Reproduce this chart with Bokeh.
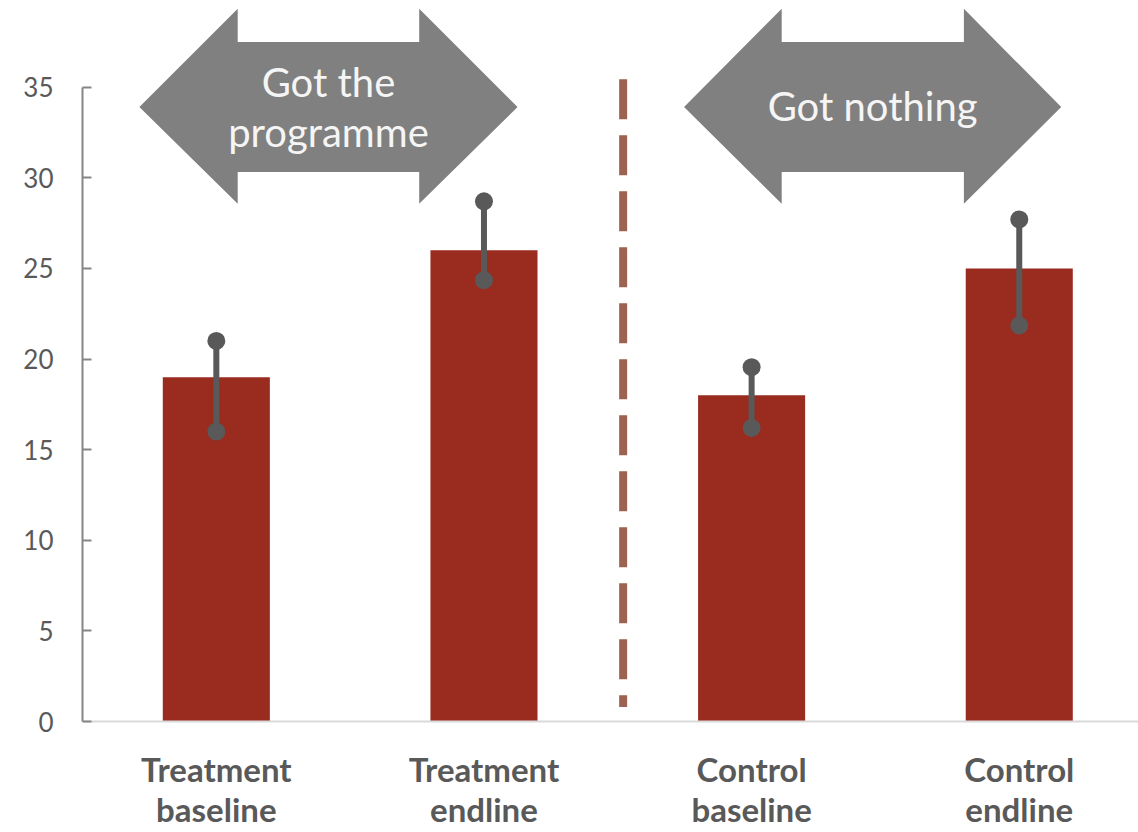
from bokeh.plotting import figure
from bokeh.models import FixedTicker, ColumnDataSource, Range1d
from bokeh.core.properties import value
from bokeh.embed import file_html
from bokeh.resources import INLINE

# ---- data ----
categories = ["Treatment\nbaseline", "Treatment\nendline", "Control\nbaseline", "Control\nendline"]
means = [19.0, 26.0, 18.0, 25.0]
upper = [21.0, 28.7, 19.55, 27.7]
lower = [16.0, 24.35, 16.2, 21.85]
y_ticks = [0, 5, 10, 15, 20, 25, 30, 35]
arrow_labels_left = ["Got the", "programme"]
arrow_label_right = ["Got nothing"]

# ---- style ----
BAR = "#992B1F"
ERR = "#595959"
ARROW = "#808080"
DASH = "#9C6352"
TXT = "#595959"
FONT = "Lato"

xs = list(range(len(categories)))

p = figure(width=1138, height=832, output_backend="svg", toolbar_location=None,
           x_range=Range1d(-0.5, 3.4455), y_range=Range1d(0, 39.34),
           min_border_left=82, min_border_right=0, min_border_top=8, min_border_bottom=111)
p.outline_line_color = None
p.xgrid.grid_line_color = None
p.ygrid.grid_line_color = None
p.background_fill_color = "white"
p.border_fill_color = "white"

# arrows (shape geometry)
def double_arrow(x_tip_l, x_shaft_l, x_shaft_r, x_tip_r, y_head_top, y_shaft_top, y_mid, y_shaft_bot, y_head_bot):
    xs_ = [x_tip_l, x_shaft_l, x_shaft_l, x_shaft_r, x_shaft_r, x_tip_r, x_shaft_r, x_shaft_r, x_shaft_l, x_shaft_l]
    ys_ = [y_mid, y_head_top, y_shaft_top, y_shaft_top, y_head_top, y_mid, y_head_bot, y_shaft_bot, y_shaft_bot, y_head_bot]
    return xs_, ys_

ax1, ay1 = double_arrow(-0.2875, 0.0799, 0.758, 1.1255, 39.33, 37.49, 33.90, 30.32, 28.57)
ax2, ay2 = double_arrow(1.7476, 2.1124, 2.7931, 3.1568, 39.33, 37.49, 33.90, 30.32, 28.57)
p.patches(xs=[ax1, ax2], ys=[ay1, ay2], fill_color=ARROW, line_color=None)

p.text(x=[0.419, 0.419], y=[35.31, 32.55], text=arrow_labels_left,
       text_font=value(FONT), text_font_size="40px", text_color="#F5F5F5",
       text_align="center", text_baseline="alphabetic")
p.text(x=[2.452], y=[33.97], text=arrow_label_right,
       text_font=value(FONT), text_font_size="40px", text_color="#F5F5F5",
       text_align="center", text_baseline="alphabetic")

# separator
p.segment(x0=[1.52], y0=[35.44], x1=[1.52], y1=[0.8], line_color=DASH,
          line_width=8, line_dash="40 16", line_cap="butt")

# bars
src = ColumnDataSource(dict(x=xs, top=means, lo=lower, hi=upper))
p.vbar(x="x", top="top", width=0.4, source=src, fill_color=BAR, line_color=None)

# error bars
p.segment(x0="x", y0="lo", x1="x", y1="hi", source=src, line_color=ERR, line_width=6)
p.scatter(x="x", y="hi", source=src, size=18, fill_color=ERR, line_color=None)
p.scatter(x="x", y="lo", source=src, size=18, fill_color=ERR, line_color=None)

# axes
ya = p.yaxis[0]
ya.ticker = FixedTicker(ticks=y_ticks)
ya.bounds = (0, 35)
ya.axis_line_color = "#868686"
ya.axis_line_width = 2
ya.major_tick_line_color = "#868686"
ya.major_tick_line_width = 2
ya.major_tick_in = 9
ya.major_tick_out = 0
ya.minor_tick_line_color = None
ya.major_label_standoff = 29
ya.major_label_text_font = FONT
ya.major_label_text_font_size = "26px"
ya.major_label_text_color = TXT

xa = p.xaxis[0]
xa.ticker = FixedTicker(ticks=xs)
xa.major_label_overrides = {i: c for i, c in zip(xs, categories)}
xa.axis_line_color = "#D9D9D9"
xa.axis_line_width = 2
xa.major_tick_line_color = None
xa.minor_tick_line_color = None
xa.major_label_standoff = 21
xa.major_label_text_font = FONT
xa.major_label_text_font_size = "33px"
xa.major_label_text_font_style = "bold"
xa.major_label_text_color = TXT
xa.major_label_text_line_height = 1.0

open("out.html", "w").write(file_html(p, INLINE))
